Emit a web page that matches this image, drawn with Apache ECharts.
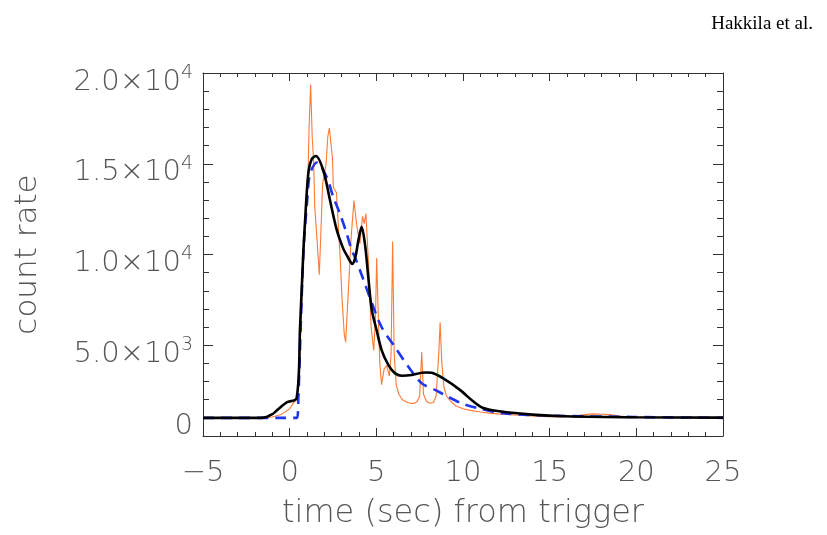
<!DOCTYPE html>
<html>
<head>
<meta charset="utf-8">
<script src="https://cdn.jsdelivr.net/npm/echarts@6/dist/echarts.min.js"></script>
<style>
html,body{margin:0;padding:0;background:#fff;}
#c{width:827px;height:535px;}
</style>
</head>
<body>
<div id="c"></div>
<script>
// ---- data ----
const timeOrange = [-5,-4.5,-4,-3.5,-3,-2.5,-2,-1.5,-1,-0.5,-0.3,0,0.2,0.4,0.45,0.55,0.7,0.85,0.95,1.05,1.12,1.21,1.3,1.38,1.45,1.58,1.71,1.8,1.9,2.0,2.1,2.2,2.29,2.37,2.47,2.52,2.62,2.7,2.8,2.9,3.02,3.15,3.23,3.33,3.43,3.55,3.71,3.87,4.05,4.2,4.3,4.4,4.55,4.7,4.85,4.95,5.02,5.1,5.2,5.3,5.45,5.6,5.75,5.85,5.94,6.03,6.15,6.3,6.5,6.8,7.0,7.2,7.35,7.5,7.62,7.72,7.9,8.1,8.3,8.45,8.6,8.68,8.78,8.9,9.05,9.3,9.6,10,10.5,11,11.5,12,12.5,13,13.5,14,14.5,15,15.5,16,16.5,17,17.5,18,18.5,19,19.5,20,21,22,23,24,25];
const countOrange = [1000,1010,995,1005,1000,990,1005,1010,1050,1180,1300,1500,1800,2000,2300,3500,7500,11000,12500,14000,17000,19370,16500,15200,12600,10800,8890,11200,13900,14400,15000,16500,16970,16900,15300,13700,13600,13400,11700,10070,7600,5600,5170,7000,8800,11000,12970,11600,10600,12100,11700,12250,9500,6000,4720,6500,9800,7000,4000,2830,3700,3900,3300,4500,10710,4500,2800,2300,2000,1850,1800,1800,1900,2200,4630,2300,1900,1800,1850,2200,4500,6260,4000,2700,2200,1900,1650,1500,1400,1320,1260,1220,1190,1160,1130,1100,1080,1060,1050,1060,1100,1180,1220,1200,1180,1100,1060,1040,1030,1030,1020,1010,1010];

const timeFit = [-5,-2,-1.5,-1,-0.75,-0.17,0.4,0.6,0.785,0.88,1.07,1.27,1.52,1.95,2.33,2.72,3.1,3.3,3.5,3.62,3.8,3.95,4.15,4.35,4.54,4.73,5.02,5.31,5.7,6.08,6.47,7.04,7.62,7.9,8.2,8.86,9.82,10.6,11.17,12.1,14.0,15.9,20,25];
const countFit = [1000,1000,1010,1200,1400,1850,2080,6000,10070,11700,14430,15250,15430,14600,12980,11340,10300,9950,9600,9480,9900,10700,11530,10530,8710,7000,5810,4720,3900,3450,3320,3360,3480,3500,3480,3170,2540,1900,1540,1360,1180,1090,1030,1010];

const timeModel = [-5,0.42,0.5,0.79,1.01,1.17,1.57,2.14,2.52,2.9,3.29,3.57,3.77,4.25,4.63,5.31,6.08,6.85,7.62,8.39,8.93,9.89,10.85,12.3,15.2,19.8,25];
const countModel = [1000,1000,2080,10070,12980,14430,15070,14250,13160,12250,11160,10250,9850,8620,7620,5990,4900,3810,2900,2540,2270,1810,1540,1250,1120,1050,1000];

const xTicks = [-5,0,5,10,15,20,25];
const yTicks = [0,5000,10000,15000,20000];
const yTickMantissa = ['0','5.0×10','1.0×10','1.5×10','2.0×10'];
const yTickExponent = ['','3','4','4','4'];

const titleText = 'Hakkila et al.';
const xName = 'time (sec) from trigger';
const yName = 'count rate';

// ---- chart ----
const zip = (a,b)=>a.map((t,i)=>[t,b[i]]);
const FONT = 'DejaVu Sans';
const FW = 200;
const TXT = '#555';
const AX = '#333';

function yLabel(v){
  const i = yTicks.indexOf(v);
  if(i<0) return '';
  if(yTickExponent[i]==='') return '{z|'+yTickMantissa[i]+'}';
  return '{b|'+yTickMantissa[i]+'}{s|'+yTickExponent[i]+'}';
}

const line = {show:true,onZero:false,lineStyle:{color:AX,width:1}};

const chart = echarts.init(document.getElementById('c'),null,{renderer:'canvas'});
chart.setOption({
  animation:false,
  backgroundColor:'#fff',
  title:{text:titleText,right:9,top:10,textStyle:{fontFamily:'Liberation Serif',fontSize:19,fontWeight:'normal',color:'#000'}},
  grid:{left:203,top:73,width:520,height:367},
  xAxis:[{
    type:'value',min:-5,max:25,interval:5,position:'bottom',
    axisLine:line,splitLine:{show:false},
    axisTick:{inside:true,length:8,lineStyle:{color:AX}},
    minorTick:{show:true,splitNumber:5,length:4,lineStyle:{color:AX}},
    axisLabel:{margin:23,fontFamily:FONT,fontWeight:FW,fontSize:29,color:TXT,
      formatter:v=>xTicks.includes(v)?String(v).replace('-','\u2212'):''},
    name:xName,nameLocation:'middle',nameGap:62,
    nameTextStyle:{fontFamily:FONT,fontWeight:FW,fontSize:32,color:TXT}
  },{
    type:'value',min:-5,max:25,interval:5,position:'top',
    axisLine:line,splitLine:{show:false},
    axisTick:{inside:true,length:8,lineStyle:{color:AX}},
    minorTick:{show:true,splitNumber:5,length:4,lineStyle:{color:AX}},
    axisLabel:{show:false}
  }],
  yAxis:[{
    type:'value',min:0,max:20000,interval:5000,position:'left',
    axisLine:line,splitLine:{show:false},
    axisTick:{inside:true,length:10,lineStyle:{color:AX}},
    minorTick:{show:true,splitNumber:5,length:6,lineStyle:{color:AX}},
    axisLabel:{margin:10,formatter:yLabel,
      rich:{
        b:{fontFamily:FONT,fontWeight:FW,fontSize:29,lineHeight:29,color:TXT,padding:[18,0,0,0]},
        s:{fontFamily:FONT,fontWeight:FW,fontSize:19,lineHeight:19,color:TXT,padding:[14,0,14,0]},
        z:{fontFamily:FONT,fontWeight:FW,fontSize:29,lineHeight:29,color:TXT,padding:[0,0,20,0]}
      }},
    name:yName,nameLocation:'middle',nameGap:160,nameRotate:90,
    nameTextStyle:{fontFamily:FONT,fontWeight:FW,fontSize:31,color:TXT}
  },{
    type:'value',min:0,max:20000,interval:5000,position:'right',
    axisLine:line,splitLine:{show:false},
    axisTick:{inside:true,length:10,lineStyle:{color:AX}},
    minorTick:{show:true,splitNumber:5,length:6,lineStyle:{color:AX}},
    axisLabel:{show:false}
  }],
  series:[
    {type:'line',xAxisIndex:0,yAxisIndex:0,data:zip(timeOrange,countOrange),showSymbol:false,symbol:'none',
      lineStyle:{color:'#ff7a33',width:1.1},z:2},
    {type:'line',xAxisIndex:0,yAxisIndex:0,data:zip(timeModel,countModel),showSymbol:false,symbol:'none',smooth:0.3,
      lineStyle:{color:'#1f35f0',width:2.6,type:[11,7]},z:3},
    {type:'line',xAxisIndex:0,yAxisIndex:0,data:zip(timeFit,countFit),showSymbol:false,symbol:'none',smooth:0.3,
      lineStyle:{color:'#000',width:2.6},z:4}
  ]
});
</script>
</body>
</html>
